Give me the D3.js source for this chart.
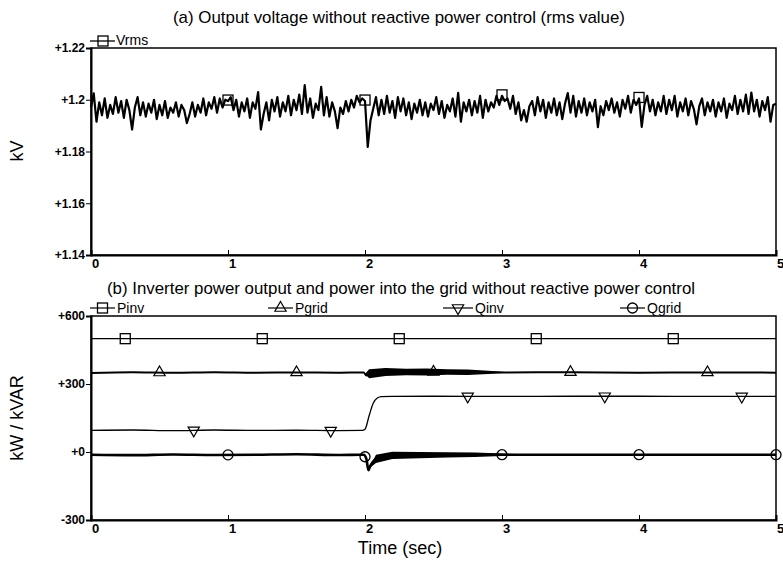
<!DOCTYPE html>
<html>
<head>
<meta charset="utf-8">
<script src="https://cdn.jsdelivr.net/npm/d3@7"></script>
<style>
  body { margin: 0; background: #fff; }
  text { font-family: "Liberation Sans", Arial, sans-serif; fill: #000; }
  .tick text { font-weight: bold; font-size: 12px; }
  .xax .tick text { font-size: 13px; }
</style>
</head>
<body>
<svg id="chart" width="783" height="561"></svg>
<script>
// ---- data ----
const timeTicks = [0, 1, 2, 3, 4, 5];
const vTicks = [1.14, 1.16, 1.18, 1.2, 1.22];
const pTicks = [-300, 0, 300, 600];

// Vrms, one sample every 0.02 s from 0 to 5 s (kV)
const vrmsStep = 0.02;
const vrms = [
  1.197, 1.2025, 1.1915, 1.199, 1.194, 1.2005, 1.193, 1.198, 1.1945, 1.201,
  1.195, 1.1995, 1.193, 1.200, 1.196, 1.1885, 1.197, 1.201, 1.194, 1.199,
  1.1935, 1.1985, 1.195, 1.200, 1.1925, 1.198, 1.194, 1.1995, 1.193, 1.197,
  1.195, 1.199, 1.1935, 1.198, 1.196, 1.191, 1.1945, 1.199, 1.1935, 1.198,
  1.195, 1.2005, 1.194, 1.199, 1.1965, 1.201, 1.195, 1.2005, 1.197, 1.200,
  1.1995, 1.201, 1.196, 1.200, 1.1935, 1.199, 1.1955, 1.2005, 1.193, 1.199,
  1.1965, 1.203, 1.1885, 1.1945, 1.199, 1.192, 1.200, 1.1955, 1.201, 1.1935,
  1.199, 1.1955, 1.2015, 1.194, 1.200, 1.196, 1.202, 1.1945, 1.2057, 1.195,
  1.2005, 1.193, 1.1985, 1.196, 1.205, 1.194, 1.201, 1.1935, 1.199, 1.1955,
  1.189, 1.197, 1.1945, 1.1995, 1.1955, 1.200, 1.197, 1.2015, 1.199, 1.2005,
  1.1995, 1.1818, 1.192, 1.1965, 1.201, 1.194, 1.200, 1.1945, 1.2015, 1.195,
  1.1995, 1.193, 1.201, 1.1955, 1.2005, 1.194, 1.199, 1.1925, 1.1985, 1.195,
  1.200, 1.194, 1.199, 1.1935, 1.1985, 1.196, 1.201, 1.1945, 1.1995, 1.193,
  1.198, 1.1955, 1.2005, 1.1935, 1.2027, 1.1915, 1.199, 1.1955, 1.200, 1.194,
  1.1995, 1.195, 1.2015, 1.193, 1.200, 1.1955, 1.199, 1.197, 1.2015, 1.198,
  1.2015, 1.1995, 1.2005, 1.1965, 1.2015, 1.1945, 1.199, 1.192, 1.196, 1.1915,
  1.1975, 1.1995, 1.194, 1.201, 1.1955, 1.200, 1.193, 1.199, 1.195, 1.2005,
  1.194, 1.199, 1.1925, 1.1985, 1.2026, 1.195, 1.2015, 1.1935, 1.1995, 1.195,
  1.2005, 1.194, 1.199, 1.1955, 1.200, 1.1894, 1.1975, 1.194, 1.1995, 1.196,
  1.2005, 1.195, 1.199, 1.1935, 1.200, 1.1965, 1.2015, 1.195, 1.200, 1.198,
  1.2005, 1.1895, 1.198, 1.2015, 1.1955, 1.200, 1.194, 1.199, 1.1955, 1.2015,
  1.1945, 1.200, 1.196, 1.2015, 1.1935, 1.199, 1.1955, 1.2005, 1.194, 1.1995,
  1.1965, 1.1905, 1.1975, 1.2005, 1.194, 1.199, 1.1955, 1.200, 1.1935, 1.199,
  1.1955, 1.2005, 1.193, 1.1985, 1.196, 1.2015, 1.1945, 1.200, 1.1955, 1.202,
  1.1945, 1.2028, 1.1955, 1.200, 1.1935, 1.1995, 1.196, 1.201, 1.1915, 1.198,
  1.1985
];
const vrmsMarks = [1, 2, 3, 4];

// panel (b) series (kW / kVAR)
const pinvT = [0, 5];
const pinvV = [500, 500];
const pinvMarks = [0.25, 1.25, 2.25, 3.25, 4.25];

const pgridT = [0, 0.3, 0.6, 0.9, 1.2, 1.5, 1.8, 1.99, 2.01, 2.05, 2.5, 3, 3.5, 4, 4.5, 5];
const pgridV = [349, 352, 350, 352, 350, 351, 350, 351, 338, 353, 353, 351, 352, 350, 351, 350];
const pgridMarks = [0.5, 1.5, 2.5, 3.5, 4.5];
// oscillation band half-width after the step
const pgridBandT = [2.0, 2.03, 2.15, 2.3, 2.45, 2.6, 2.75, 2.9, 3.0, 3.05];
const pgridBandA = [0, 20, 18, 14, 15, 12, 12, 7, 3, 0];

const qinvT = [0, 0.3, 0.6, 0.9, 1.2, 1.5, 1.8, 1.98, 2.0, 2.03, 2.06, 2.09, 2.12, 2.2, 2.5, 3, 3.5, 4, 4.5, 5];
const qinvV = [95, 97, 94, 97, 95, 96, 94, 95, 100, 160, 215, 238, 244, 245, 246, 245, 246, 246, 245, 245];
const qinvMarks = [0.75, 1.75, 2.75, 3.75, 4.75];

const qgridT = [0, 0.3, 0.6, 0.9, 1.2, 1.5, 1.8, 1.99, 2.01, 2.025, 2.04, 2.07, 2.1, 2.2, 2.5, 3, 3.5, 4, 4.5, 5];
const qgridV = [-12, -14, -11, -13, -12, -10, -13, -12, -30, -80, -60, -35, -20, -15, -13, -12, -12, -12, -12, -12];
const qgridMarks = [1, 2, 3, 4, 5];
const qgridBandT = [2.03, 2.08, 2.2, 2.4, 2.6, 2.8, 2.95, 3.1, 3.25];
const qgridBandA = [0, 18, 16, 14, 12, 10, 7, 3, 0];

// ---- layout ----
const svg = d3.select("#chart");
const left = 91, right = 776;

const x = d3.scaleLinear().domain([0, 5]).range([left, right]);
const yA = d3.scaleLinear().domain([1.14, 1.22]).range([255, 48]);
const yB = d3.scaleLinear().domain([-300, 600]).range([520, 316]);

function valueAt(ts, vs, t) {
  const i = d3.bisectLeft(ts, t);
  if (i <= 0) return vs[0];
  if (i >= ts.length) return vs[vs.length - 1];
  const f = (t - ts[i - 1]) / (ts[i] - ts[i - 1]);
  return vs[i - 1] + f * (vs[i] - vs[i - 1]);
}

function marker(g, type, cx, cy) {
  if (type === "square") {
    g.append("rect").attr("x", cx - 5).attr("y", cy - 5).attr("width", 10).attr("height", 10)
      .attr("fill", "none").attr("stroke", "#000").attr("stroke-width", 1.3);
  } else if (type === "circle") {
    g.append("circle").attr("cx", cx).attr("cy", cy).attr("r", 5)
      .attr("fill", "none").attr("stroke", "#000").attr("stroke-width", 1.3);
  } else {
    const sym = d3.symbol().type(d3.symbolTriangle).size(55);
    g.append("path").attr("d", sym())
      .attr("transform", `translate(${cx},${cy}) rotate(${type === "down" ? 180 : 0})`)
      .attr("fill", "none").attr("stroke", "#000").attr("stroke-width", 1.2);
  }
}

function frame(y, top, bottom, ticks, fmt) {
  svg.append("rect").attr("x", left).attr("y", top).attr("width", right - left).attr("height", bottom - top)
    .attr("fill", "#fff").attr("stroke", "#000").attr("stroke-width", 1.5);

  const ya = svg.append("g").attr("transform", `translate(${left},0)`)
    .call(d3.axisLeft(y).tickValues(ticks).tickSize(5).tickPadding(1).tickFormat(fmt));
  ya.select(".domain").attr("stroke-width", 2);

  const xa = svg.append("g").attr("class", "xax").attr("transform", `translate(0,${bottom})`)
    .call(d3.axisBottom(x).tickValues(timeTicks).tickSize(-5).tickPadding(4).tickFormat(d3.format("d")));
  xa.select(".domain").attr("stroke-width", 2);
  xa.selectAll(".tick text").attr("dx", 4);
  xa.selectAll(".tick line").filter(d => d === 0 || d === 5).remove();
}

// ---- panel (a) ----
svg.append("text").attr("x", 399).attr("y", 23).attr("text-anchor", "middle").attr("font-size", 17)
  .attr("textLength", 452).attr("lengthAdjust", "spacingAndGlyphs")
  .text("(a) Output voltage without reactive power control (rms value)");

frame(yA, 48, 255, vTicks, d => "+" + d);

const vLine = d3.line().x((d, i) => x(i * vrmsStep)).y(d => yA(d));
svg.append("path").datum(vrms).attr("d", vLine)
  .attr("fill", "none").attr("stroke", "#000").attr("stroke-width", 2.2).attr("stroke-linejoin", "round");
const gA = svg.append("g");
vrmsMarks.forEach(t => marker(gA, "square", x(t), yA(vrms[Math.round(t / vrmsStep)]) - 1));

svg.append("text").attr("transform", "translate(23,151) rotate(-90)").attr("text-anchor", "middle")
  .attr("font-size", 18).text("kV");

// legend (a)
svg.append("line").attr("x1", 90).attr("x2", 115).attr("y1", 41).attr("y2", 41).attr("stroke", "#000").attr("stroke-width", 1.3);
marker(gA, "square", 103, 41);
svg.append("text").attr("x", 116).attr("y", 45).attr("font-size", 14).text("Vrms");

// ---- panel (b) ----
svg.append("text").attr("x", 401).attr("y", 294).attr("text-anchor", "middle").attr("font-size", 17)
  .attr("textLength", 588).attr("lengthAdjust", "spacingAndGlyphs")
  .text("(b) Inverter power output and power into the grid without reactive power control");

frame(yB, 316, 520, pTicks, d => (d < 0 ? "" : "+") + d);

const gB = svg.append("g");
const band = (bt, ba, ts, vs) => d3.area()
  .x(t => x(t))
  .y0((t, i) => yB(valueAt(ts, vs, t) - ba[i]))
  .y1((t, i) => yB(valueAt(ts, vs, t) + ba[i]))(bt);

gB.append("path").attr("d", band(pgridBandT, pgridBandA, pgridT, pgridV)).attr("fill", "#000");
gB.append("path").attr("d", band(qgridBandT, qgridBandA, qgridT, qgridV)).attr("fill", "#000");

const series = [
  {t: pinvT, v: pinvV, m: pinvMarks, type: "square", w: 1.3},
  {t: pgridT, v: pgridV, m: pgridMarks, type: "up", w: 2},
  {t: qinvT, v: qinvV, m: qinvMarks, type: "down", w: 1.3},
  {t: qgridT, v: qgridV, m: qgridMarks, type: "circle", w: 2.6}
];
series.forEach(s => {
  const line = d3.line().x((d, i) => x(s.t[i])).y(d => yB(d)).curve(d3.curveMonotoneX);
  gB.append("path").datum(s.v).attr("d", line)
    .attr("fill", "none").attr("stroke", "#000").attr("stroke-width", s.w);
  s.m.forEach(t => marker(gB, s.type, x(t), yB(valueAt(s.t, s.v, t))));
});

// legend (b)
const legB = [
  {name: "Pinv", type: "square", x1: 90, x2: 115},
  {name: "Pgrid", type: "up", x1: 268, x2: 293},
  {name: "Qinv", type: "down", x1: 443, x2: 473},
  {name: "Qgrid", type: "circle", x1: 620, x2: 645}
];
legB.forEach(l => {
  svg.append("line").attr("x1", l.x1).attr("x2", l.x2).attr("y1", 308).attr("y2", 308)
    .attr("stroke", "#000").attr("stroke-width", 1.2);
  marker(gB, l.type, (l.x1 + l.x2) / 2, 308);
  svg.append("text").attr("x", l.x2 + 2).attr("y", 313).attr("font-size", 14).text(l.name);
});

svg.append("text").attr("transform", "translate(23,418) rotate(-90)").attr("text-anchor", "middle")
  .attr("font-size", 18).text("kW / kVAR");

svg.append("text").attr("x", 400).attr("y", 554).attr("text-anchor", "middle")
  .attr("font-size", 18).text("Time (sec)");
</script>
</body>
</html>
